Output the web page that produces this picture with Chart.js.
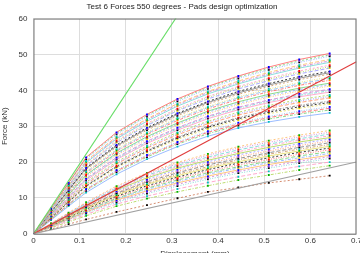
<!DOCTYPE html>
<html>
<head>
<meta charset="utf-8">
<script src="https://cdn.jsdelivr.net/npm/chart.js@4.4.1/dist/chart.umd.min.js"></script>
<style>
  html, body { margin: 0; padding: 0; overflow: hidden; background: #fff; }
  #wrap { width: 364px; height: 259px; }
</style>
</head>
<body>
<div id="wrap"><canvas id="myChart"></canvas></div>
<script>
"use strict";

// displacement (mm) where each run was sampled
const xValues = [0, 0.038, 0.076, 0.114, 0.18, 0.246, 0.312, 0.378, 0.444, 0.51, 0.576, 0.642];

// upper family of runs (kN)
const upperForces = [
  [0, 7.1, 14.2, 21.3, 28.3, 33.3, 37.6, 41.1, 44.0, 46.5, 48.6, 50.3],
  [0, 7.0, 14.1, 21.1, 28.0, 33.0, 37.3, 40.8, 43.7, 46.1, 48.2, 49.9],
  [0, 6.9, 13.9, 20.8, 27.7, 32.7, 36.9, 40.4, 43.3, 45.7, 47.8, 49.5],
  [0, 6.8, 13.5, 20.3, 27.1, 32.1, 36.3, 39.7, 42.6, 45.0, 47.0, 48.6],
  [0, 6.7, 13.4, 20.1, 26.8, 31.8, 36.0, 39.4, 42.2, 44.6, 46.6, 48.2],
  [0, 6.6, 13.2, 19.8, 26.5, 31.4, 35.6, 39.0, 41.8, 44.2, 46.2, 47.8],
  [0, 6.4, 12.9, 19.3, 26.0, 30.8, 34.9, 38.3, 41.1, 43.4, 45.4, 47.0],
  [0, 6.4, 12.7, 19.1, 25.7, 30.5, 34.6, 38.0, 40.8, 43.1, 45.0, 46.6],
  [0, 6.3, 12.6, 18.9, 25.4, 30.2, 34.3, 37.6, 40.4, 42.7, 44.6, 46.2],
  [0, 6.1, 12.3, 18.4, 24.8, 29.6, 33.6, 36.9, 39.7, 41.9, 43.8, 45.3],
  [0, 6.1, 12.1, 18.2, 24.5, 29.3, 33.3, 36.6, 39.3, 41.5, 43.4, 44.9],
  [0, 6.0, 11.9, 17.9, 24.2, 28.9, 32.9, 36.2, 38.9, 41.1, 43.0, 44.5],
  [0, 5.8, 11.6, 17.4, 23.6, 28.3, 32.3, 35.5, 38.2, 40.4, 42.2, 43.7],
  [0, 5.7, 11.5, 17.2, 23.3, 28.0, 32.0, 35.2, 37.9, 40.0, 41.8, 43.3],
  [0, 5.6, 11.3, 16.9, 23.0, 27.7, 31.6, 34.8, 37.5, 39.6, 41.4, 42.8],
  [0, 5.5, 10.9, 16.4, 22.5, 27.1, 30.9, 34.2, 36.8, 38.9, 40.6, 42.0],
  [0, 5.4, 10.8, 16.2, 22.2, 26.8, 30.6, 33.9, 36.4, 38.5, 40.2, 41.6],
  [0, 5.3, 10.6, 15.9, 21.9, 26.4, 30.3, 33.5, 36.0, 38.1, 39.8, 41.2],
  [0, 5.1, 10.3, 15.4, 21.3, 25.8, 29.6, 32.8, 35.3, 37.3, 39.0, 40.3],
  [0, 5.1, 10.1, 15.2, 21.0, 25.5, 29.3, 32.5, 35.0, 37.0, 38.6, 39.9],
  [0, 5.0, 9.9, 14.9, 20.7, 25.2, 28.9, 32.1, 34.6, 36.6, 38.2, 39.5],
  [0, 4.8, 9.6, 14.4, 20.1, 24.5, 28.3, 31.4, 33.9, 35.8, 37.4, 38.7],
  [0, 4.7, 9.5, 14.2, 19.8, 24.2, 28.0, 31.1, 33.5, 35.4, 37.0, 38.3],
  [0, 4.6, 9.3, 13.9, 19.5, 23.9, 27.6, 30.7, 33.1, 35.0, 36.6, 37.9],
  [0, 4.5, 9.0, 13.5, 18.9, 23.3, 27.0, 30.0, 32.4, 34.3, 35.8, 37.0],
  [0, 4.4, 8.9, 13.3, 18.7, 23.0, 26.7, 29.7, 32.1, 33.9, 35.4, 36.6],
  [0, 4.3, 8.7, 13.0, 18.4, 22.7, 26.3, 29.3, 31.7, 33.5, 35.0, 36.2],
  [0, 4.2, 8.3, 12.5, 17.8, 22.0, 25.6, 28.6, 31.0, 32.7, 34.2, 35.4],
  [0, 4.1, 8.2, 12.3, 17.5, 21.7, 25.3, 28.3, 30.6, 32.4, 33.8, 35.0],
  [0, 4.0, 8.0, 12.0, 17.2, 21.4, 25.0, 27.9, 30.2, 32.0, 33.4, 34.5],
  [0, 3.8, 7.7, 11.5, 16.6, 20.8, 24.3, 27.2, 29.5, 31.2, 32.6, 33.7]
];

// lower family of runs (kN)
const lowerForces = [
  [0, 2.9, 5.9, 8.8, 13.3, 17.0, 19.9, 22.3, 24.3, 26.0, 27.5, 28.8],
  [0, 2.9, 5.7, 8.6, 13.0, 16.7, 19.5, 21.9, 23.9, 25.5, 27.0, 28.3],
  [0, 2.8, 5.6, 8.4, 12.7, 16.3, 19.1, 21.4, 23.4, 25.0, 26.5, 27.8],
  [0, 2.7, 5.5, 8.2, 12.5, 16.0, 18.7, 21.0, 22.9, 24.6, 26.1, 27.3],
  [0, 2.7, 5.3, 8.0, 12.2, 15.6, 18.3, 20.5, 22.4, 24.1, 25.6, 26.8],
  [0, 2.6, 5.3, 7.9, 11.9, 15.2, 17.9, 20.1, 22.0, 23.6, 25.1, 26.4],
  [0, 2.6, 5.1, 7.7, 11.6, 14.8, 17.4, 19.6, 21.5, 23.1, 24.6, 25.9],
  [0, 2.5, 5.0, 7.5, 11.3, 14.5, 17.0, 19.2, 21.0, 22.6, 24.1, 25.4],
  [0, 2.4, 4.9, 7.3, 11.1, 14.1, 16.6, 18.7, 20.6, 22.2, 23.6, 24.9],
  [0, 2.4, 4.7, 7.1, 10.8, 13.8, 16.2, 18.3, 20.1, 21.7, 23.1, 24.4],
  [0, 2.3, 4.6, 6.9, 10.5, 13.4, 15.8, 17.9, 19.7, 21.2, 22.7, 23.9],
  [0, 2.2, 4.5, 6.7, 10.2, 13.0, 15.4, 17.4, 19.2, 20.7, 22.2, 23.4],
  [0, 2.2, 4.3, 6.5, 9.9, 12.7, 15.0, 17.0, 18.7, 20.2, 21.7, 22.9],
  [0, 2.1, 4.2, 6.3, 9.7, 12.4, 14.6, 16.6, 18.3, 19.8, 21.2, 22.4],
  [0, 2.0, 4.1, 6.1, 9.4, 12.0, 14.2, 16.1, 17.8, 19.3, 20.7, 21.9],
  [0, 2.0, 4.0, 6.0, 9.1, 11.6, 13.8, 15.7, 17.4, 18.8, 20.2, 21.5],
  [0, 1.9, 3.9, 5.8, 8.8, 11.2, 13.3, 15.2, 16.9, 18.3, 19.7, 21.0],
  [0, 1.8, 3.6, 5.4, 8.3, 10.5, 12.5, 14.3, 15.9, 17.4, 18.8, 20.0],
  [0, 1.7, 3.3, 5.0, 7.7, 9.8, 11.7, 13.4, 15.0, 16.4, 17.8, 19.0]
];

// weakest run, black dashed
const weakestForces = [0, 1.3, 2.7, 4.0, 6.1, 8.0, 9.9, 11.7, 12.9, 14.2, 15.2, 16.2];

// straight reference lines: [x0, y0, x1, y1]
const greenLine = [0, 0, 0.7, 136.4];
const redLine = [0, 0, 0.7, 48];
const grayLine = [0, 0, 0.7, 20];

const lineColors = ["#ff7070", "#7fd67f", "#8fb4ff", "#ffc070", "#d08ad8", "#7fd8d8",
  "#ffa0c8", "#b4d860", "#a0a0ff", "#ff9a70", "#888888", "#d0a070", "#e8e070", "#90c0f0"];
const markerColors = ["#0000ff", "#000000", "#00b000", "#ff0000", "#e8d000", "#9933cc",
  "#00c0c0", "#ff8800", "#333333"];
const dashes = [[], [2, 2], [1, 1.5], [4, 2], [3, 1.5, 1, 1.5]];

function toPoints(ys) {
  return xValues.map((x, i) => ({ x: x, y: ys[i] }));
}

const datasets = [];
let k = 0;
[...upperForces, ...lowerForces].forEach((ys) => {
  const dark = k % 16 === 9;
  datasets.push({
    data: toPoints(ys),
    borderColor: dark ? "#222222" : lineColors[k % lineColors.length],
    borderWidth: 0.9,
    borderDash: dark ? [2, 2] : dashes[k % dashes.length],
    pointStyle: "rect",
    pointRadius: 1.3,
    pointBorderWidth: 0,
    pointBackgroundColor: markerColors[(k * 5) % markerColors.length],
  });
  k++;
});

datasets.push({
  data: toPoints(weakestForces),
  borderColor: "#d08060",
  borderWidth: 0.9,
  borderDash: [2, 2],
  pointStyle: "rect",
  pointRadius: 1.3,
  pointBorderWidth: 0,
  pointBackgroundColor: "#000000",
});

[[greenLine, "#66dd66"], [redLine, "#e03c3c"], [grayLine, "#a0a0a0"]].forEach(([l, c]) => {
  datasets.unshift({
    data: [{ x: l[0], y: l[1] }, { x: l[2], y: l[3] }],
    borderColor: c,
    borderWidth: 1.1,
    pointRadius: 0,
  });
});

const boxPlugin = {
  id: "box",
  afterDraw(chart) {
    const a = chart.chartArea;
    const ctx = chart.ctx;
    ctx.save();
    ctx.strokeStyle = "#777777";
    ctx.lineWidth = 1;
    ctx.strokeRect(a.left + 0.5, a.top + 0.5, a.right - a.left - 1, a.bottom - a.top);
    ctx.restore();
  },
};

Chart.defaults.font.family = "'Liberation Sans', Arial, sans-serif";
Chart.defaults.font.size = 8;
Chart.defaults.color = "#333333";

new Chart("myChart", {
  type: "line",
  data: { datasets: datasets },
  plugins: [boxPlugin],
  options: {
    responsive: true,
    maintainAspectRatio: false,
    animation: false,
    plugins: {
      legend: { display: false },
      tooltip: { enabled: false },
      title: {
        display: true,
        text: "Test 6 Forces 550 degrees - Pads design optimization",
        font: { size: 8, weight: "normal" },
        color: "#222222",
        padding: { top: 2, bottom: 7 },
      },
    },
    scales: {
      x: {
        type: "linear",
        min: 0,
        max: 0.7,
        ticks: { stepSize: 0.1, padding: 2, maxRotation: 0 },
        grid: { color: "#dddddd", tickLength: 0 },
        border: { display: false },
        title: { display: true, text: "Displacement (mm)", padding: { top: 2, bottom: 0 } },
      },
      y: {
        min: 0,
        max: 60,
        ticks: { stepSize: 10, padding: 6 },
        grid: { color: "#dddddd", tickLength: 0 },
        border: { display: false },
        title: { display: true, text: "Force (kN)", padding: { top: 0, bottom: 3 } },
      },
    },
  },
});
</script>
</body>
</html>
